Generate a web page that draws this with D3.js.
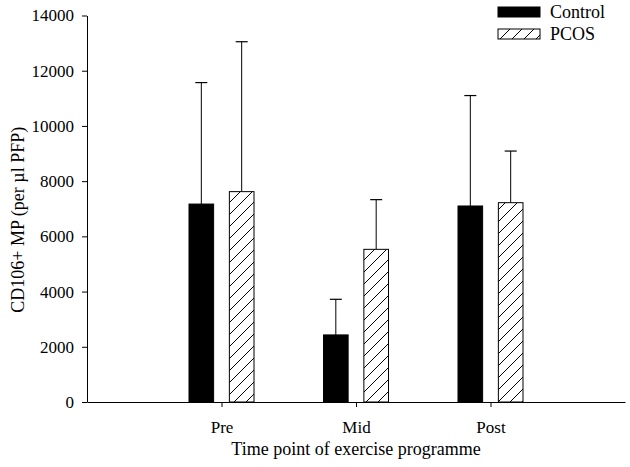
<!DOCTYPE html>
<html>
<head>
<meta charset="utf-8">
<script src="https://cdn.jsdelivr.net/npm/d3@7"></script>
<style>
  body { margin: 0; background: #fff; }
  text { font-family: "Liberation Serif", "Times New Roman", serif; }
</style>
</head>
<body>
<svg id="chart" width="630" height="467"></svg>
<script>
// values
var timepoints = ['Pre', 'Mid', 'Post'];
var series = ['Control', 'PCOS'];
var control_mean = [7170, 2430, 7100];
var control_sd   = [4400, 1290, 4000];
var pcos_mean    = [7620, 5530, 7220];
var pcos_sd      = [5430, 1800, 1870];
var y_ticks = [0, 2000, 4000, 6000, 8000, 10000, 12000, 14000];

var svg = d3.select('#chart');

var left = 87, right = 625, top_y = 15.5, bottom = 402;

var x = d3.scalePoint().domain(timepoints).range([left, right]).padding(1);
var xSub = d3.scaleBand().domain(series).range([-32.5, 32.5]).paddingInner(0.39);
var y = d3.scaleLinear().domain([0, 14000]).range([bottom, top_y]);

// hatch pattern for PCOS
var defs = svg.append('defs');
var pat = defs.append('pattern')
    .attr('id', 'hatch')
    .attr('patternUnits', 'userSpaceOnUse')
    .attr('width', 12)
    .attr('height', 12);
pat.append('rect').attr('width', 12).attr('height', 12).attr('fill', 'white');
pat.append('path')
    .attr('d', 'M-3,3 L3,-3 M0,12 L12,0 M9,15 L15,9')
    .attr('stroke', 'black')
    .attr('stroke-width', 1);

var rows = [];
timepoints.forEach(function(t, i){
    rows.push({t: t, s: 'Control', mean: control_mean[i], sd: control_sd[i]});
    rows.push({t: t, s: 'PCOS', mean: pcos_mean[i], sd: pcos_sd[i]});
});

function barX(d){ return x(d.t) + xSub(d.s); }
function barMid(d){ return x(d.t) + xSub(d.s) + xSub.bandwidth() / 2; }

// error bars (upper only)
svg.selectAll('line.err')
   .data(rows)
   .enter()
   .append('line')
   .attr('x1', barMid)
   .attr('x2', barMid)
   .attr('y1', function(d){ return y(d.mean); })
   .attr('y2', function(d){ return y(d.mean + d.sd); })
   .attr('stroke', 'black')
   .attr('stroke-width', 1);

svg.selectAll('line.cap')
   .data(rows)
   .enter()
   .append('line')
   .attr('x1', function(d){ return barMid(d) - 6; })
   .attr('x2', function(d){ return barMid(d) + 6; })
   .attr('y1', function(d){ return y(d.mean + d.sd); })
   .attr('y2', function(d){ return y(d.mean + d.sd); })
   .attr('stroke', 'black')
   .attr('stroke-width', 1.2);

svg.selectAll('rect.bar')
   .data(rows)
   .enter()
   .append('rect')
   .attr('x', barX)
   .attr('width', xSub.bandwidth())
   .attr('y', function(d){ return y(d.mean); })
   .attr('height', function(d){ return bottom - y(d.mean); })
   .attr('fill', function(d){ return d.s == 'Control' ? 'black' : 'url(#hatch)'; })
   .attr('stroke', 'black')
   .attr('stroke-width', 1);

// axes
svg.append('g')
   .attr('transform', 'translate(0,' + bottom + ')')
   .call(d3.axisBottom(x).tickSize(5).tickSizeOuter(0).tickPadding(14));

svg.append('g')
   .attr('transform', 'translate(' + left + ',0)')
   .call(d3.axisLeft(y).tickValues(y_ticks).tickFormat(d3.format('d')).tickSize(5).tickSizeOuter(0).tickPadding(8));

svg.selectAll('.tick text')
   .style('font-family', '"Liberation Serif", "Times New Roman", serif')
   .style('font-size', '17px')
   .attr('fill', 'black');
svg.selectAll('.domain, .tick line').attr('stroke', 'black');

svg.append('text')
   .attr('x', x('Mid'))
   .attr('y', 455)
   .attr('text-anchor', 'middle')
   .style('font-size', '18px')
   .text('Time point of exercise programme');

svg.append('text')
   .attr('transform', 'translate(24,' + ((top_y + bottom) / 2 + 11) + ') rotate(-90)')
   .attr('text-anchor', 'middle')
   .style('font-size', '18px')
   .text('CD106+ MP (per µl PFP)');

// legend
var legend = svg.selectAll('g.leg')
    .data(series)
    .enter()
    .append('g')
    .attr('transform', function(d, i){ return 'translate(498,' + (7 + i * 22) + ')'; });

legend.append('rect')
      .attr('width', 42)
      .attr('height', 10)
      .attr('fill', function(d){ return d == 'Control' ? 'black' : 'url(#hatch)'; })
      .attr('stroke', 'black')
      .attr('stroke-width', 1);

legend.append('text')
      .attr('x', 52)
      .attr('y', 11)
      .style('font-size', '18px')
      .text(function(d){ return d; });
</script>
</body>
</html>
